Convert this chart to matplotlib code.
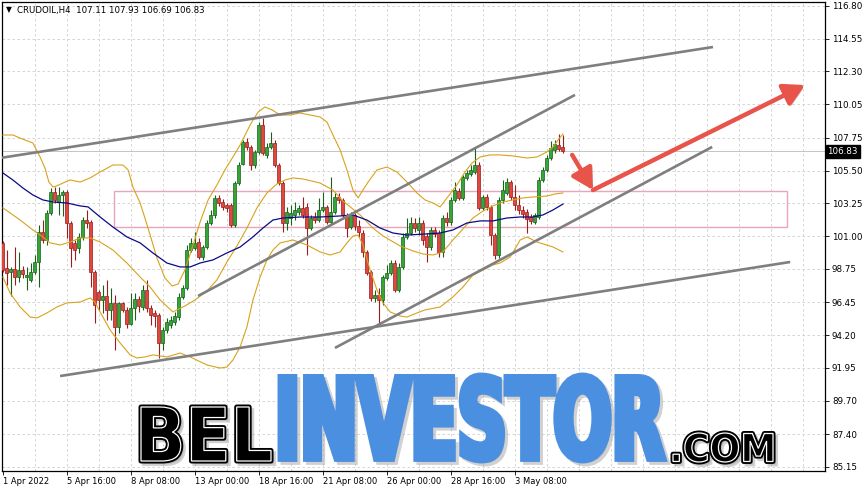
import numpy as np
import matplotlib
matplotlib.use('Agg')
import matplotlib.pyplot as plt
from matplotlib.textpath import TextPath
from matplotlib.patches import PathPatch, Rectangle
from matplotlib.font_manager import FontProperties
from matplotlib.transforms import Affine2D, blended_transform_factory
import matplotlib.patheffects as pe

plt.rcParams['font.family'] = ['DejaVu Sans']

# ---------------- data (4H candles, CRUDOIL) ----------------
opens = [100.53, 98.81, 98.54, 98.74, 98.19, 98.67, 98.19, 97.99, 98.54, 99.22,
         101.28, 100.73, 102.59, 104.03, 103.34, 103.82, 104.03, 101.90, 100.53, 100.18,
         100.94, 102.10, 101.97, 98.54, 97.16, 96.61, 96.89, 95.93, 96.41, 94.76,
         96.41, 95.93, 94.96, 96.06, 96.68, 96.13, 97.30, 96.06, 95.72, 95.58,
         93.66, 94.55, 94.90, 95.10, 95.44, 96.82, 97.43, 100.04, 100.18, 100.59,
         99.56, 100.25, 101.90, 102.45, 103.62, 103.34, 103.13, 103.13, 101.76, 104.64,
         105.95, 107.46, 107.12, 105.88, 106.77, 108.63, 106.57, 107.12, 107.39, 105.88,
         104.64, 101.90, 102.24, 102.45, 102.65, 102.93, 103.00, 101.56, 102.31, 102.10,
         102.79, 103.00, 101.97, 102.65, 103.68, 103.48, 102.45, 101.62, 102.45, 101.69,
         101.21, 99.91, 98.54, 96.75, 96.96, 96.61, 98.12, 98.47, 99.15, 97.30,
         98.88, 100.94, 101.21, 101.90, 101.42, 101.90, 101.01, 100.25, 101.42, 101.21,
         99.91, 102.24, 101.97, 103.48, 104.10, 103.62, 104.99, 105.26, 105.40, 105.88,
         102.93, 103.68, 103.00, 101.07, 99.70, 103.48, 103.96, 104.71, 103.68, 103.13,
         102.79, 102.65, 102.31, 101.97, 102.31, 104.85, 105.54, 106.36, 106.91, 107.25,
         107.11]
highs = [100.66, 100.04, 98.88, 100.25, 99.91, 98.95, 98.88, 99.15, 99.70, 101.76,
         102.10, 102.79, 104.30, 104.37, 104.37, 104.16, 104.16, 102.04, 100.73, 101.21,
         102.31, 102.79, 102.10, 98.67, 97.30, 97.64, 97.99, 97.43, 96.96, 96.47,
         96.47, 96.13, 97.09, 97.09, 96.89, 97.64, 97.99, 96.27, 95.93, 95.72,
         94.76, 95.38, 95.51, 95.79, 97.09, 97.64, 100.39, 100.87, 101.28, 100.87,
         100.39, 102.10, 102.79, 103.82, 103.82, 103.55, 103.27, 103.27, 104.78, 106.09,
         107.60, 107.73, 107.25, 106.91, 108.83, 109.11, 107.39, 108.15, 107.60, 106.02,
         104.78, 103.00, 103.13, 103.34, 103.13, 103.68, 103.27, 102.45, 102.65, 103.62,
         104.03, 103.13, 105.06, 103.96, 103.96, 103.62, 102.59, 102.65, 102.59, 102.10,
         101.42, 100.04, 98.67, 97.30, 97.43, 98.33, 99.02, 99.36, 99.36, 99.15,
         101.21, 102.24, 102.31, 102.24, 102.31, 102.10, 101.21, 101.62, 101.62, 101.42,
         102.45, 102.65, 103.68, 104.71, 104.30, 105.19, 105.54, 105.88, 107.05, 106.09,
         103.82, 103.89, 103.13, 101.21, 103.68, 104.85, 104.99, 104.85, 104.51, 103.82,
         103.07, 102.86, 102.52, 102.59, 105.06, 105.74, 106.57, 107.53, 107.60, 108.01,
         107.93]
lows = [98.54, 97.64, 96.89, 97.64, 97.85, 98.12, 97.30, 97.85, 98.40, 97.50,
        100.53, 100.39, 102.45, 103.27, 102.45, 102.38, 100.87, 98.88, 99.36, 99.84,
        100.73, 101.56, 97.50, 95.03, 95.93, 95.72, 95.24, 95.24, 93.18, 94.35,
        95.79, 94.69, 94.90, 95.24, 95.79, 95.93, 95.79, 94.90, 94.76, 92.63,
        93.18, 94.35, 94.69, 94.90, 95.24, 96.68, 97.30, 99.91, 100.04, 99.43,
        99.36, 100.11, 101.76, 102.24, 103.07, 102.79, 102.65, 101.62, 101.62, 104.51,
        105.88, 106.91, 105.54, 105.68, 106.64, 106.57, 106.36, 106.98, 105.74, 104.51,
        101.28, 101.42, 101.76, 102.10, 102.45, 102.24, 99.70, 101.42, 101.90, 101.97,
        102.65, 101.83, 101.83, 102.52, 103.27, 102.24, 100.94, 101.49, 101.42, 100.94,
        99.56, 98.33, 96.54, 96.47, 95.03, 96.27, 97.99, 98.33, 97.16, 97.16,
        98.74, 100.80, 101.07, 101.28, 101.07, 100.39, 99.22, 100.04, 100.94, 99.56,
        99.56, 101.69, 101.76, 103.34, 103.48, 103.48, 104.85, 105.12, 105.26, 102.79,
        102.79, 102.79, 100.39, 99.43, 99.50, 103.27, 103.82, 103.48, 102.79, 102.52,
        102.24, 101.21, 101.83, 101.83, 102.17, 104.71, 105.40, 106.22, 106.71, 106.84,
        106.69]
closes = [98.67, 98.47, 98.74, 98.19, 98.67, 98.40, 98.33, 98.54, 99.22, 101.28,
          100.73, 102.59, 104.03, 103.48, 103.82, 104.03, 101.90, 100.18, 100.04, 100.94,
          102.10, 101.90, 98.54, 96.27, 96.61, 96.89, 95.93, 96.41, 94.76, 96.41,
          95.93, 94.96, 96.06, 96.68, 96.20, 97.30, 96.06, 95.58, 95.51, 93.66,
          94.55, 95.10, 95.24, 95.51, 96.82, 97.43, 100.04, 100.53, 100.53, 99.56,
          100.25, 101.90, 102.45, 103.62, 103.27, 103.00, 102.93, 101.76, 104.64, 105.88,
          107.46, 107.12, 105.88, 106.77, 108.63, 106.71, 107.12, 107.39, 105.88, 104.64,
          101.90, 102.65, 102.59, 102.79, 102.93, 102.45, 101.56, 102.24, 102.10, 102.79,
          103.00, 101.97, 102.65, 103.68, 103.48, 102.45, 101.56, 102.45, 101.69, 101.28,
          99.91, 98.47, 96.75, 96.96, 96.61, 98.19, 98.47, 99.15, 97.30, 98.88,
          100.94, 101.21, 101.90, 101.56, 101.90, 100.73, 100.25, 101.42, 101.14, 99.91,
          102.24, 101.97, 103.48, 104.16, 103.62, 105.06, 105.33, 105.54, 105.88, 102.93,
          103.68, 103.00, 101.07, 99.70, 103.48, 104.16, 104.71, 103.68, 103.13, 102.79,
          102.52, 102.17, 102.04, 102.45, 104.85, 105.54, 106.36, 107.05, 107.32, 106.98,
          106.83]

# Bollinger bands (yellow) and moving average (blue): (bar index, price)
upper_x = [0.1, 2.6, 4.4, 5.6, 7.6, 9.4, 10.6, 11.6, 12.6, 13.6, 15.1, 16.9, 19.4, 21.9, 24.4,
           27.6, 30.1, 31.4, 32.6, 34.4, 35.6, 36.9, 38.6, 40.6, 42.4, 43.9, 45.6, 47.4, 49.4,
           51.4, 53.6, 55.6, 57.6, 59.4, 61.9, 63.9, 65.6, 67.4, 69.4, 71.9, 74.4, 76.9, 79.4,
           81.1, 82.6, 84.4, 86.1, 87.6, 88.9, 90.1, 91.4, 93.6, 96.1, 98.6, 101.1, 103.6,
           105.6, 107.6, 109.4, 111.1, 113.6, 115.6, 117.4, 119.4, 121.9, 124.4, 127.6, 131.1,
           133.6, 136.1, 137.6, 138.9, 140.1]
upper_y = [107.94, 107.94, 107.73, 107.60, 107.39, 106.43, 105.68, 104.71, 104.37, 104.45,
           104.64, 104.85, 104.71, 104.99, 105.40, 105.88, 105.88, 105.54, 104.37, 103.27,
           102.24, 101.07, 99.50, 98.12, 97.57, 97.71, 98.67, 100.18, 101.97, 103.48, 104.51,
           105.54, 106.43, 107.25, 108.63, 109.52, 109.86, 109.66, 109.31, 109.31, 109.45,
           109.31, 109.18, 108.83, 107.94, 106.91, 105.54, 104.16, 103.62, 104.16, 104.71,
           105.54, 105.74, 105.40, 104.71, 103.96, 103.48, 103.27, 103.00, 103.62, 104.51,
           105.40, 106.02, 106.43, 106.57, 106.57, 106.50, 106.36, 106.43, 106.77, 107.12,
           107.60, 108.01]
mid_x = [0.1, 1.9, 4.4, 7.6, 10.1, 11.9, 14.4, 16.9, 19.4, 21.9, 24.4, 27.6, 31.1, 34.4, 36.9,
         39.4, 42.6, 45.6, 48.1, 51.1, 53.6, 56.1, 58.6, 61.1, 63.6, 66.1, 68.6, 70.6, 72.6,
         75.1, 79.4, 82.6, 85.1, 89.4, 92.6, 95.1, 99.4, 102.6, 105.1, 107.6, 110.1, 112.6,
         115.1, 117.6, 120.1, 122.6, 125.1, 127.6, 130.1, 132.6, 136.1, 138.1, 140.1]
mid_y = [102.93, 102.59, 102.10, 101.42, 100.94, 100.53, 100.39, 100.59, 100.87, 100.87,
         100.59, 100.04, 99.15, 98.19, 97.50, 96.61, 95.79, 96.20, 96.61, 97.23, 97.99, 99.22,
         100.32, 101.55, 102.93, 103.96, 104.58, 104.85, 104.99, 104.92, 104.64, 104.16,
         103.41, 102.45, 101.55, 101.01, 100.32, 99.98, 99.77, 99.70, 99.91, 100.73, 101.49,
         102.24, 102.72, 103.07, 103.34, 103.48, 103.62, 103.68, 103.75, 103.89, 103.96]
lower_x = [0.1, 1.9, 4.4, 6.9, 8.6, 11.1, 13.6, 16.1, 19.4, 21.9, 23.1, 24.4, 26.9, 29.4, 31.9,
           33.6, 35.6, 37.6, 41.1, 44.4, 46.9, 51.1, 54.4, 56.1, 57.6, 59.4, 61.1, 62.6, 64.4,
           66.1, 67.6, 69.4, 72.6, 76.1, 79.4, 81.9, 84.4, 86.1, 87.6, 88.9, 90.1, 91.9, 93.6,
           95.1, 96.9, 99.4, 101.1, 103.6, 105.6, 109.4, 112.6, 115.1, 117.6, 120.1, 122.6,
           124.4, 126.9, 129.4, 131.1, 133.6, 137.6, 140.1]
lower_y = [98.19, 97.09, 96.13, 95.44, 95.38, 95.72, 96.13, 96.41, 96.47, 96.75, 96.47, 95.79,
           94.55, 93.66, 92.84, 92.63, 92.70, 92.84, 92.70, 92.97, 92.70, 92.15, 91.94, 92.01,
           92.49, 93.39, 94.76, 96.61, 98.19, 99.36, 100.04, 100.53, 100.73, 100.39, 99.91,
           99.70, 99.91, 100.53, 101.00, 101.07, 100.39, 98.67, 97.30, 96.41, 95.79, 95.51,
           95.44, 95.72, 95.93, 96.13, 96.82, 97.50, 98.33, 98.67, 99.02, 99.15, 99.56,
           100.73, 100.94, 100.59, 100.25, 99.91]
ma_x = [0.1, 2.6, 5.1, 7.6, 10.1, 12.6, 16.1, 19.4, 21.4, 24.4, 27.6, 31.1, 34.4, 37.6, 41.1,
        44.4, 46.9, 49.4, 52.6, 56.1, 59.4, 62.6, 65.1, 67.6, 70.1, 74.4, 79.4, 84.4, 87.6,
        91.1, 94.4, 97.6, 101.1, 105.6, 109.4, 112.6, 116.1, 119.4, 122.6, 126.1, 129.4,
        132.6, 135.1, 137.6, 140.1]
ma_y = [105.33, 104.85, 104.30, 103.82, 103.48, 103.34, 103.27, 103.07, 103.00, 102.31,
        101.62, 100.94, 100.53, 99.84, 99.15, 98.88, 98.88, 99.15, 99.36, 99.84, 100.25,
        100.94, 101.55, 102.10, 102.24, 102.31, 102.31, 102.38, 102.45, 102.10, 101.55,
        101.21, 101.07, 101.14, 101.21, 101.42, 101.90, 102.04, 102.04, 102.24, 102.31,
        102.31, 102.45, 102.79, 103.20]

# drawn trend lines: [(bar0, price0), (bar1, price1)]
trend_lines = [[(-0.6, 106.36), (177.6, 113.98)],
               [(48.9, 96.89), (143.1, 110.69)],
               [(83.1, 93.32), (177.4, 107.12)],
               [(14.4, 91.39), (196.9, 99.22)]]
zone_bars = [27.9, 196.1]
zone_prices = [101.62, 104.10]
arrow_points = [(142.4, 106.57), (147.6, 104.16), (200.6, 111.37)]

ytick_vals = [116.80, 114.55, 112.30, 110.05, 107.75, 105.50, 103.25, 101.00,
              98.75, 96.45, 94.20, 91.95, 89.70, 87.40, 85.15]
xtick_bars = [0, 16, 32, 48, 64, 80, 96, 112, 128]
xtick_labels = ['1 Apr 2022', '5 Apr 16:00', '8 Apr 08:00', '13 Apr 00:00', '18 Apr 16:00',
                '21 Apr 08:00', '26 Apr 00:00', '28 Apr 16:00', '3 May 08:00']
title = 'CRUDOIL,H4  107.11 107.93 106.69 106.83'
last_price = 106.83

# ---------------- figure ----------------
W, H = 866, 492
fig = plt.figure(figsize=(W / 100, H / 100), dpi=100)
fig.patch.set_facecolor('white')
ax = fig.add_axes([2 / W, 21 / H, 823 / W, 469 / H])
ax.set_xlim(-0.125, 205.6)
ax.set_ylim(84.87, 117.07)
ax.set_facecolor('white')

grid_kw = dict(color='#cfcfcf', lw=0.6, ls=(0, (3, 3)), zorder=0)
for v in ytick_vals:
    ax.axhline(v, **grid_kw)
for b in range(8, 206, 8):
    ax.axvline(b, **grid_kw)

# support zone
ax.add_patch(Rectangle((zone_bars[0], zone_prices[0]), zone_bars[1] - zone_bars[0],
                       zone_prices[1] - zone_prices[0], fill=False,
                       edgecolor='#e8a6b8', lw=1.0, zorder=1))
ax.axhline(last_price, color='#c4c4c4', lw=0.7, zorder=1)

# candles
o = np.array(opens); h = np.array(highs); l = np.array(lows); c = np.array(closes)
idx = np.arange(len(c))
up = c >= o
bull_fill, bull_edge = '#35a635', '#17611a'
bear_fill, bear_edge = '#e0473d', '#9a1c1c'
ax.vlines(idx[up], l[up], h[up], color=bull_edge, lw=0.8, zorder=3)
ax.vlines(idx[~up], l[~up], h[~up], color=bear_edge, lw=0.8, zorder=3)
bb = np.minimum(o, c)
bh = np.maximum(np.abs(c - o), 0.05)
ax.bar(idx[up], bh[up], bottom=bb[up], width=0.62, color=bull_fill,
       edgecolor=bull_edge, lw=0.5, zorder=4)
ax.bar(idx[~up], bh[~up], bottom=bb[~up], width=0.62, color=bear_fill,
       edgecolor=bear_edge, lw=0.5, zorder=4)

# indicators
band_col = '#d9a21b'
ax.plot(upper_x, upper_y, color=band_col, lw=0.8, zorder=5)
ax.plot(mid_x, mid_y, color=band_col, lw=0.8, zorder=5)
ax.plot(lower_x, lower_y, color=band_col, lw=0.8, zorder=5)
ax.plot(ma_x, ma_y, color='#0b0b8a', lw=0.9, zorder=5)

# trend lines
for (x0, y0), (x1, y1) in trend_lines:
    ax.plot([x0, x1], [y0, y1], color='#7f7f7f', lw=1.9, zorder=6,
            solid_capstyle='butt')

# red arrows
arr_col = '#e8534a'
shadow = [pe.SimplePatchShadow(offset=(1.5, -1.5), alpha=0.25), pe.Normal()]
for p0, p1 in zip(arrow_points[:-1], arrow_points[1:]):
    ax.annotate('', xy=p1, xytext=p0, zorder=7,
                arrowprops=dict(arrowstyle='-|>,head_length=0.9,head_width=0.5',
                                color=arr_col, lw=3.2, mutation_scale=14,
                                shrinkA=0, shrinkB=0, path_effects=shadow))

# axes styling
for s in ax.spines.values():
    s.set_color('black')
    s.set_linewidth(0.9)
ax.yaxis.tick_right()
ax.set_yticks(ytick_vals)
ax.set_yticklabels([f'{v:.2f}' for v in ytick_vals])
ax.set_xticks(xtick_bars)
ax.set_xticklabels(xtick_labels)
for lbl in ax.get_xticklabels():
    lbl.set_ha('left')
ax.tick_params(axis='y', direction='out', length=3, width=0.6, pad=2, labelsize=6.3,
               colors='black')
ax.tick_params(axis='x', direction='out', length=3, width=0.6, pad=1.5, labelsize=6,
               colors='black')

# price tag
tr = blended_transform_factory(ax.transAxes, ax.transData)
ax.text(1.003, last_price, f'{last_price:.2f}', transform=tr, ha='left', va='center',
        fontsize=6.3, color='white', zorder=10,
        bbox=dict(boxstyle='square,pad=0.22', fc='black', ec='black'))

# title
fig.text(6 / W, 1 - 10 / H, '\u25BC', fontsize=5.5, va='center', ha='left')
fig.text(17 / W, 1 - 10 / H, title, fontsize=6.2, va='center', ha='left')

# ---------------- logo ----------------
lax = fig.add_axes([0, 0, 1, 1], zorder=8)
lax.set_xlim(0, W)
lax.set_ylim(H, 0)
lax.axis('off')
lax.patch.set_alpha(0)
fp = FontProperties(family='DejaVu Sans', weight='bold')


def fitted_path(s, box):
    tp = TextPath((0, 0), s, size=100, prop=fp)
    e = tp.get_extents()
    L, T, R, B = box
    t = Affine2D().translate(-e.x0, -e.y0).scale((R - L) / e.width, -(B - T) / e.height).translate(L, B)
    return t.transform_path(tp)


def add_inline(s, box):
    p = fitted_path(s, box)
    sh = Affine2D().translate(3, 3).transform_path(p)
    lax.add_patch(PathPatch(sh, fc='#9a9a9a', ec='#9a9a9a', lw=3, alpha=0.45))
    lax.add_patch(PathPatch(p, fc='black', ec='black', lw=3.6, joinstyle='round'))
    lax.add_patch(PathPatch(p, fc='none', ec='white', lw=0.9))


add_inline('BEL', (141, 407, 271, 461))
pi = fitted_path('INVESTOR', (281, 376, 663, 460))
lax.add_patch(PathPatch(Affine2D().translate(3, 3).transform_path(pi), fc='#9a9a9a',
                        ec='#9a9a9a', lw=5, alpha=0.45))
lax.add_patch(PathPatch(pi, fc='#4a8fe0', ec='#4a8fe0', lw=5, joinstyle='miter'))
add_inline('.COM', (673, 433, 773, 462))

fig.savefig('out.png', dpi=100, facecolor='white')
